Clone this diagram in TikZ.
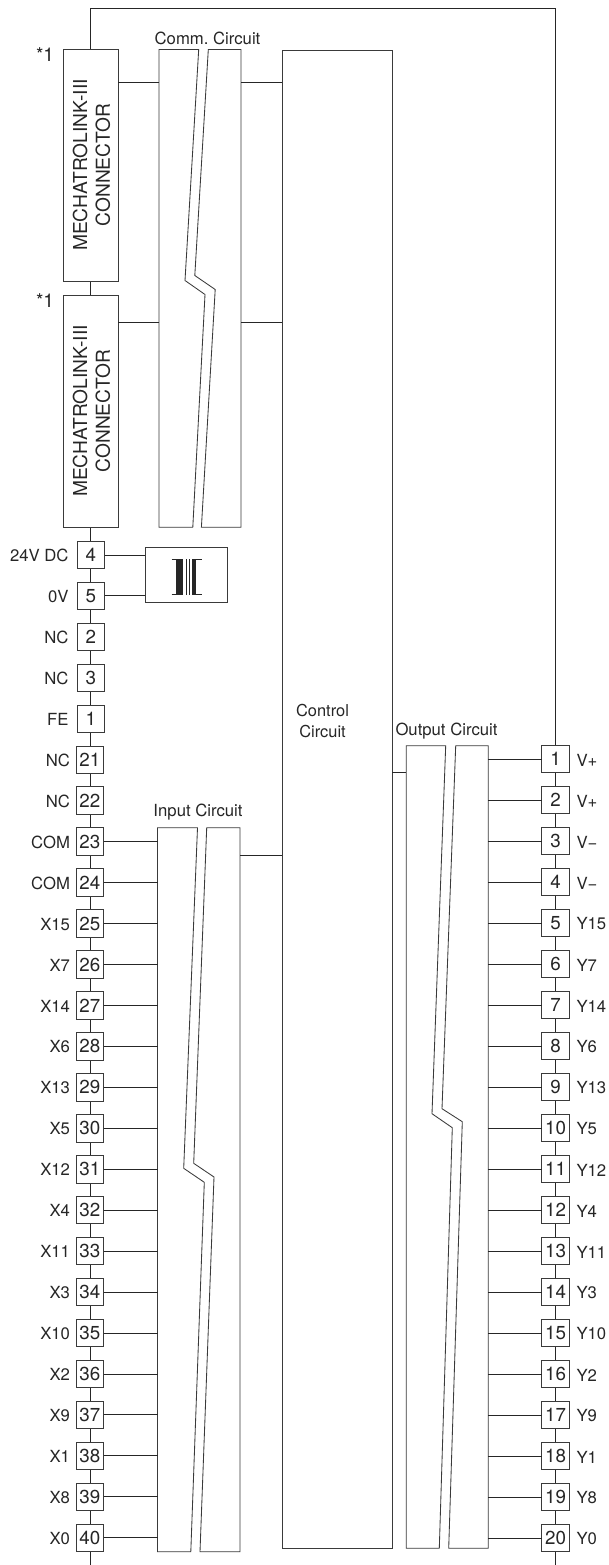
\documentclass[tikz,border=0pt]{standalone}
\usepackage{fontspec}
\usetikzlibrary{calc}
\setmainfont{TeX Gyre Heros}
\definecolor{ink}{HTML}{262626}
\definecolor{edge}{HTML}{3A3A3A}
\tikzset{
  box/.style={draw=edge,line width=1pt,inner sep=0pt,outer sep=0pt,text=ink},
  term/.style={box,minimum width=27.5pt,minimum height=27.5pt,font=\fontsize{18.8}{18.8}\selectfont},
  lab/.style={inner sep=0pt,outer sep=0pt,text=ink,font=\fontsize{16.7}{20}\selectfont\frenchspacing},
  llab/.style={lab,anchor=east},
  rlab/.style={lab,anchor=west},
  wire/.style={draw=ink,line width=1pt},
  conn/.style={box,minimum width=54.5pt,minimum height=232pt},
  conntext/.style={inner sep=0pt,text=ink,rotate=90,font=\fontsize{19.2}{22.7}\selectfont,align=center},
  half/.style={draw=edge,line width=0.85pt,line join=miter},
  trcore/.style={draw=none,fill=ink},
  trline/.style={draw=ink,line width=0.7pt}
}
\begin{document}
\begin{tikzpicture}[x=1pt,y=-1pt]
\useasboundingbox (0,0) rectangle (609,1565);
\fill[white] (0,0) rectangle (609,1565);

% named points
\coordinate (topL) at (90.5,8.5);
\coordinate (topR) at (555.5,8.5);
\coordinate (botL) at (90.5,1565);
\coordinate (botR) at (555.5,1565);
\coordinate (commL) at (159,300);
\coordinate (commR) at (241,300);
\coordinate (inL) at (157.5,900);
\coordinate (inR) at (240,900);
\coordinate (outL) at (406.3,900);
\coordinate (outR) at (488.3,900);

% main buses (behind the boxes)
\draw[wire] (topL) -- (topR);
\draw[wire] (topL) -- (botL);
\draw[wire] (topR) -- (botR);

% connectors
\node[conn,fill=white] (c1) at (90.75,165.5) {};
\node[conn,fill=white] (c2) at (90.75,411.2) {};
\node[conntext] (c1t) at (91.5,165) {MECHATROLINK-III\\CONNECTOR};
\node[conntext] (c2t) at (91.5,411) {MECHATROLINK-III\\CONNECTOR};

% control circuit
\node[box,fill=white,minimum width=110pt,minimum height=1497.8pt] (ctrl) at (337.2,799.4) {};
\node[lab,align=center,font=\fontsize{16.4}{21}\selectfont] (ctrltxt) at (322.5,721.5) {Control\\Circuit};

% power block
\node[box,fill=white,minimum width=82.5pt,minimum height=55pt] (pwr) at (186.5,575.2) {};
\fill[trcore] (176.3,559) rectangle (182.7,594.5);
\draw[trline] (171.7,559.3) -- (182,559.3) (171.7,594.2) -- (182,594.2);
\draw[trline] (186,559) -- (186,594.5) (189,559) -- (189,594.5);
\fill[trcore] (191.8,559) rectangle (196,594.5);
\draw[trline] (193,559.3) -- (202,559.3) (193,594.2) -- (202,594.2);

% circuit halves
\draw[half] (159,49.5) -- (198.7,49.5) -- (185,280.5) -- (205,294.5) -- (192.8,527.3) -- (159,527.3) -- cycle;
\draw[half] (208.3,49.5) -- (241,49.5) -- (241,527.3) -- (201.4,527.3) -- (215.2,289.5) -- (194.8,275.5) -- cycle;
\node[lab] (commtxt) at (207.5,38) {Comm. Circuit};

\draw[half] (157.5,827.7) -- (197.5,827.7) -- (183.7,1168.3) -- (204.3,1182.3) -- (190.8,1551.7) -- (157.5,1551.7) -- cycle;
\draw[half] (206.7,827.7) -- (240,827.7) -- (240,1551.7) -- (200,1551.7) -- (214,1177) -- (193.7,1163.3) -- cycle;
\node[lab] (intxt) at (198,812) {Input Circuit};

\draw[half] (406.3,745.7) -- (445.7,745.7) -- (432,1113.7) -- (452.3,1127.7) -- (439.3,1548.3) -- (406.3,1548.3) -- cycle;
\draw[half] (455.7,745.7) -- (488.3,745.7) -- (488.3,1548.3) -- (448.7,1548.3) -- (462.3,1121.7) -- (442,1108.7) -- cycle;
\node[lab] (outtxt) at (446.5,731) {Output Circuit};

% star marks
\node[lab,anchor=east,font=\fontsize{19}{20}\selectfont] (s1) at (54,55) {*1};
\node[lab,anchor=east,font=\fontsize{19}{20}\selectfont] (s2) at (54,301) {*1};

% left terminals
\foreach \n/\l/\k/\x/\lx in {4/24V DC/0/90.8/68.5,5/0V/1/90.8/68.5,2/NC/2/90.8/68.5,3/NC/3/90.8/68.5,1/FE/4/90.8/68.5,
  21/NC/5/89.8/70,22/NC/6/89.8/70,23/COM/7/89.8/70,24/COM/8/89.8/70,25/X15/9/89.8/70,26/X7/10/89.8/70,27/X14/11/89.8/70,
  28/X6/12/89.8/70,29/X13/13/89.8/70,30/X5/14/89.8/70,31/X12/15/89.8/70,32/X4/16/89.8/70,33/X11/17/89.8/70,34/X3/18/89.8/70,
  35/X10/19/89.8/70,36/X2/20/89.8/70,37/X9/21/89.8/70,38/X1/22/89.8/70,39/X8/23/89.8/70,40/X0/24/89.8/70}{
  \node[term,fill=white] (t\n) at (\x,555+\k*40.95) {\n};
  \node[llab] (tl\n) at (\lx,555.5+\k*40.95) {\l};
}
% right terminals
\foreach \n/\l in {1/V+,2/V+,3/V−,4/V−,5/Y15,6/Y7,7/Y14,8/Y6,9/Y13,10/Y5,11/Y12,12/Y4,13/Y11,14/Y3,15/Y10,16/Y2,17/Y9,18/Y1,19/Y8,20/Y0}{
  \node[term,fill=white] (r\n) at (555.5,759+\n*41-41) {\n};
  \node[rlab] (rl\n) at (576.5,760+\n*41-41) {\l};
  \draw[wire] (outR |- r\n.west) -- (r\n.west);
}
% input wires
\foreach \n in {23,24,...,40}{
  \draw[wire] (t\n.east) -- (t\n.east -| inL);
}
% power wires
\draw[wire] (t4.east) -- (t4.east -| pwr.west);
\draw[wire] (t5.east) -- (t5.east -| pwr.west);
% comm and control wires
\draw[wire] ($(c1.east)+(0,-82.5)$) -- ($(c1.east -| commL)+(0,-82.5)$);
\draw[wire] ($(c2.east)+(0,-88.7)$) -- ($(c2.east -| commL)+(0,-88.7)$);
\draw[wire] ($(commR |- c1.east)+(0,-82.5)$) -- ($(ctrl.west |- c1.east)+(0,-82.5)$);
\draw[wire] ($(commR |- c2.east)+(0,-88.7)$) -- ($(ctrl.west |- c2.east)+(0,-88.7)$);
\coordinate (yin) at (0,855);
\coordinate (yout) at (0,772);
\draw[wire] (inR |- yin) -- (ctrl.west |- yin);
\draw[wire] (ctrl.east |- yout) -- (outL |- yout);
\end{tikzpicture}
\end{document}
